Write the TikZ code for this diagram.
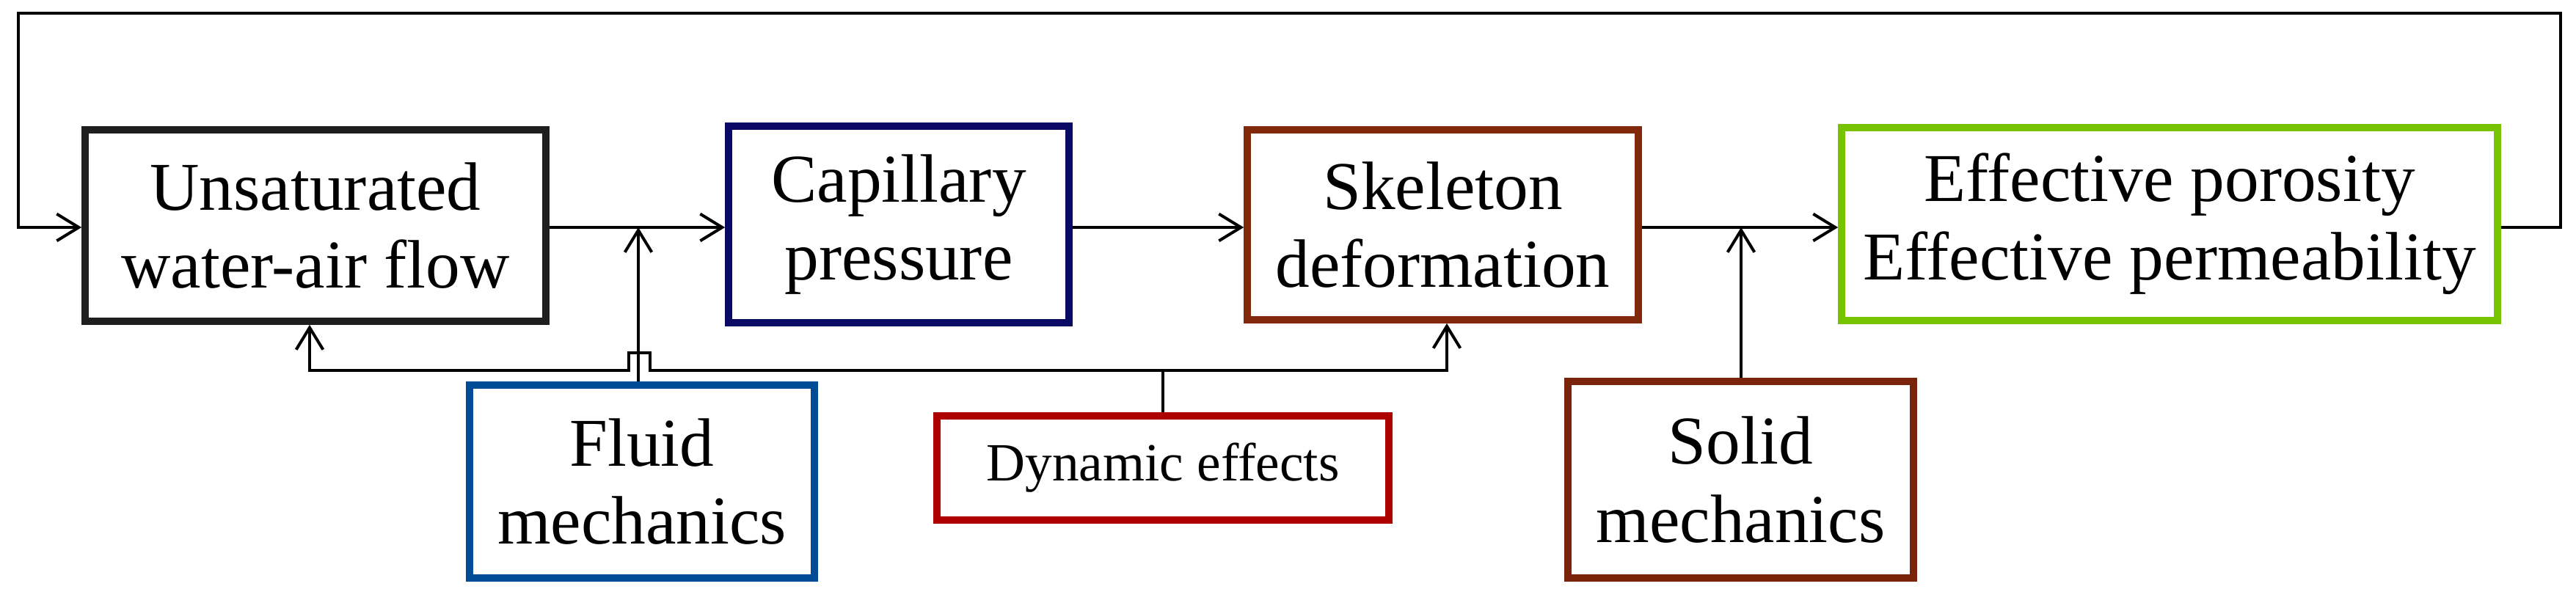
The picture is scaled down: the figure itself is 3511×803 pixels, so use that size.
\documentclass[tikz,border=0pt]{standalone}
\usepackage{fontspec}
\setmainfont{Liberation Serif}
\usetikzlibrary{arrows.meta}
\begin{document}
\begin{tikzpicture}[x=0.3pt,y=-0.3pt,
  box/.style={draw,line width=2.9pt,fill=white,align=center,font=\fontsize{28}{32}\selectfont,inner sep=0pt},
  ln/.style={line width=1.2pt},
  ar/.style={ln,-{Straight Barb[length=9pt,width=11pt,line width=1.2pt]}}]
\definecolor{cUn}{RGB}{30,30,30}
\definecolor{cCap}{RGB}{10,10,100}
\definecolor{cSk}{RGB}{130,40,10}
\definecolor{cEf}{RGB}{120,195,0}
\definecolor{cFl}{RGB}{0,75,150}
\definecolor{cDy}{RGB}{175,0,0}
\definecolor{cSo}{RGB}{120,35,10}
\useasboundingbox (0,0) rectangle (3511,803);
\node[box,draw=cUn,minimum width=188.4pt,minimum height=78.3pt] (un) at (430,307.5) {Unsaturated\\water-air flow};
\node[box,draw=cCap,minimum width=139.2pt,minimum height=80.4pt] (cap) at (1225,306) {Capillary\\pressure};
\node[box,draw=cSk,minimum width=159.9pt,minimum height=77.7pt] (sk) at (1966.5,306.5) {Skeleton\\deformation};
\node[box,draw=cEf,minimum width=268.2pt,minimum height=78.9pt] (ef) at (2957,305.5) {Effective porosity\\Effective permeability};
\node[box,draw=cFl,minimum width=141pt,minimum height=78.9pt] (fl) at (875,656.5) {Fluid\\mechanics};
\node[box,draw=cDy,minimum width=184.8pt,minimum height=42.6pt,font=\fontsize{22}{26}\selectfont] (dy) at (1585,638) {Dynamic effects};
\node[box,draw=cSo,minimum width=141.3pt,minimum height=80.4pt] (so) at (2372.5,654) {Solid\\mechanics};
% main chain
\draw[ar] (un.east |- 0,310) -- (cap.west |- 0,310);
\draw[ar] (cap.east |- 0,310) -- (sk.west |- 0,310);
\draw[ar] (sk.east |- 0,310) -- (ef.west |- 0,310);
% feedback loop
\coordinate (l1) at (3490,310);
\coordinate (l2) at (3490,18);
\coordinate (l3) at (25,18);
\coordinate (l4) at (25,310);
\draw[ar] (ef.east |- l1) -- (l1) -- (l2) -- (l3) -- (l4) -- (un.west |- l4);
% fluid mechanics
\coordinate (fm) at (870,310);
\draw[ar] (fl.north -| fm) -- (fm);
% solid mechanics
\coordinate (sm) at (2373,310);
\draw[ar] (so.north -| sm) -- (sm);
% dynamic effects
\coordinate (d1) at (1585,505);
\coordinate (h1) at (886,505);
\coordinate (h2) at (886,481);
\coordinate (h3) at (857,481);
\coordinate (h4) at (857,505);
\coordinate (a1) at (422,505);
\coordinate (s1) at (1972,505);
\draw[ln] (dy.north) -- (d1);
\draw[ar] (d1) -- (h1) -- (h2) -- (h3) -- (h4) -- (a1) -- (un.south -| a1);
\draw[ar] (d1) -- (s1) -- (sk.south -| s1);
\end{tikzpicture}
\end{document}
